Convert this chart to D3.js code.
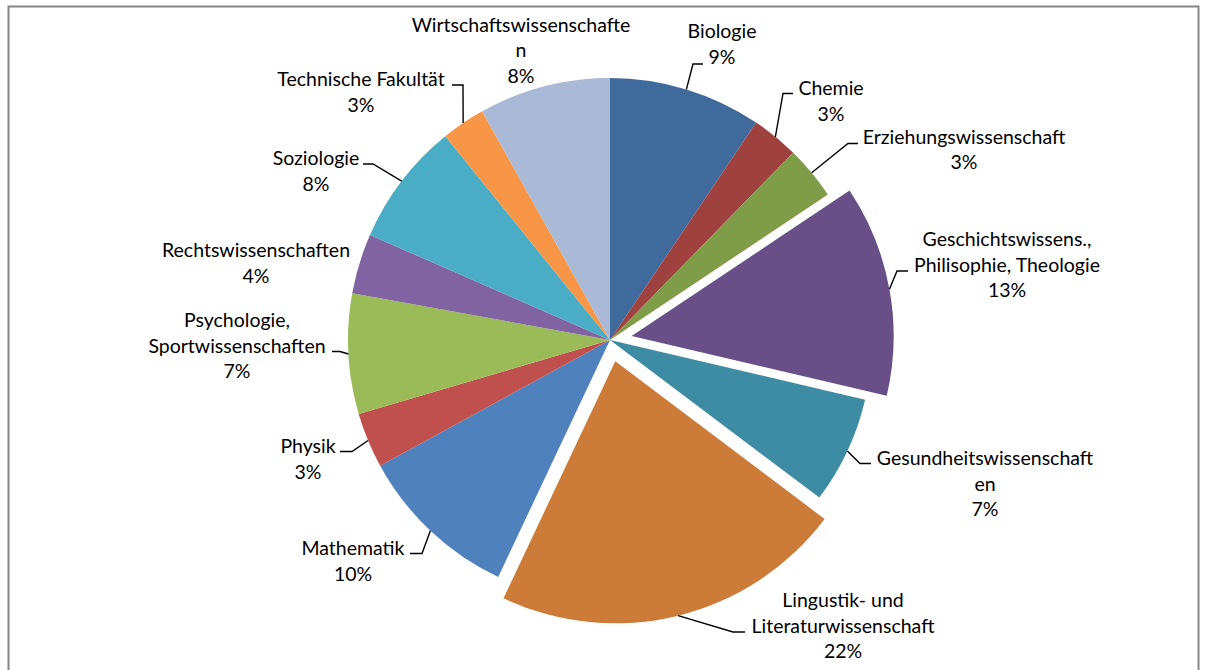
<!DOCTYPE html>
<html>
<head>
<meta charset="utf-8">
<script src="https://cdn.jsdelivr.net/npm/d3@7"></script>
<style>
  html, body { margin: 0; padding: 0; background: #fff; }
  svg { display: block; }
  .lbl { font-family: Lato, "Open Sans", sans-serif; font-size: 19.5px; fill: #000; }
</style>
</head>
<body>
<svg id="chart" width="1206" height="670"></svg>
<script>
// Faculties (slices run clockwise from 12 o'clock)
const categories = [
  "Biologie",
  "Chemie",
  "Erziehungswissenschaft",
  "Geschichtswissens., Philisophie, Theologie",
  "Gesundheitswissenschaften",
  "Lingustik- und Literaturwissenschaft",
  "Mathematik",
  "Physik",
  "Psychologie, Sportwissenschaften",
  "Rechtswissenschaften",
  "Soziologie",
  "Technische Fakultät",
  "Wirtschaftswissenschaften"
];

// Label text as wrapped onto lines
const categoryLines = [
  ["Biologie"],
  ["Chemie"],
  ["Erziehungswissenschaft"],
  ["Geschichtswissens.,", "Philisophie, Theologie"],
  ["Gesundheitswissenschaft", "en"],
  ["Lingustik- und", "Literaturwissenschaft"],
  ["Mathematik"],
  ["Physik"],
  ["Psychologie,", "Sportwissenschaften"],
  ["Rechtswissenschaften"],
  ["Soziologie"],
  ["Technische Fakultät"],
  ["Wirtschaftswissenschafte", "n"]
];

// Share of each faculty (percent)
const shares = [9.4, 2.9, 3.3, 13.0, 6.6, 21.7, 10.0, 3.4, 7.4, 3.7, 7.6, 2.7, 8.1];

// Slices pulled out of the pie
const explodedCategories = [
  "Geschichtswissens., Philisophie, Theologie",
  "Lingustik- und Literaturwissenschaft"
];

// Slice colours
const colors = [
  "#416a9c", "#9e413f", "#7f9c48", "#684f87", "#3e8ca3", "#cd7b38",
  "#4f81bd", "#c0504d", "#9bbb59", "#8064a2", "#4bacc6", "#f79646", "#aab9d6"
];

// Label placement: text centre x, first baseline, leader elbow and stub end
const labelLayout = [
  { x: 722,  y: 38,    elbow: [693, 64],    end: 703 },
  { x: 831,  y: 95,    elbow: [783, 93.5],  end: 793 },
  { x: 964,  y: 143.5, elbow: [848, 143.5], end: 858 },
  { x: 1007, y: 246,   elbow: [897, 271],   end: 908 },
  { x: 985,  y: 465,   elbow: [860, 463.5], end: 871 },
  { x: 843,  y: 607,   elbow: [733, 632],   end: 745 },
  { x: 353,  y: 555,   elbow: [422, 553.5], end: 410 },
  { x: 308,  y: 453,   elbow: [352, 451.5], end: 340 },
  { x: 237,  y: 327,   elbow: [340, 351.5], end: 332 },
  { x: 256,  y: 257,   elbow: null },
  { x: 316,  y: 165,   elbow: [373, 164],   end: 363 },
  { x: 361,  y: 86,    elbow: [463, 85],    end: 452 },
  { x: 521,  y: 31.5,  elbow: null }
];

const W = 1206, H = 670;
const cx = 610, cy = 340, R = 262, explode = 22, lineH = 25.5;

const svg = d3.select("#chart");

// outer frame
svg.append("rect")
  .attr("x", 8.5).attr("y", 6.5)
  .attr("width", 1190).attr("height", 700)
  .attr("fill", "#fff")
  .attr("stroke", "#868686")
  .attr("stroke-width", 2);

const data = categories.map((c, i) => ({
  name: c, value: shares[i], lines: categoryLines[i],
  color: colors[i], layout: labelLayout[i],
  exploded: explodedCategories.includes(c)
}));
const total = d3.sum(data, d => d.value);
const pct = d3.format(".0%");

const pie = d3.pie().sort(null).value(d => d.value);
const arc = d3.arc().innerRadius(0).outerRadius(R);
const arcs = pie(data);

const g = svg.append("g").attr("transform", `translate(${cx},${cy})`);

function offsetOf(a) {
  const mid = (a.startAngle + a.endAngle) / 2;
  const o = a.data.exploded ? explode : 0;
  return [o * Math.sin(mid), -o * Math.cos(mid)];
}

g.selectAll("path.slice")
  .data(arcs)
  .join("path")
  .attr("class", "slice")
  .attr("d", arc)
  .attr("transform", a => { const [dx, dy] = offsetOf(a); return `translate(${dx},${dy})`; })
  .attr("fill", a => a.data.color);

// leader lines: from the slice rim at its mid-angle to the label
const line = d3.line();
arcs.forEach(a => {
  const L = a.data.layout;
  if (!L.elbow) return;
  const mid = (a.startAngle + a.endAngle) / 2;
  const [dx, dy] = offsetOf(a);
  const start = [cx + dx + R * Math.sin(mid), cy + dy - R * Math.cos(mid)];
  svg.append("path")
    .attr("d", line([start, L.elbow, [L.end, L.elbow[1]]]))
    .attr("fill", "none")
    .attr("stroke", "#000")
    .attr("stroke-width", 1.4);
});

// labels: category lines followed by the percentage
arcs.forEach(a => {
  const L = a.data.layout;
  const rows = a.data.lines.concat([pct(a.data.value / total)]);
  const t = svg.append("text")
    .attr("class", "lbl")
    .attr("text-anchor", "middle");
  rows.forEach((r, k) => {
    t.append("tspan").attr("x", L.x).attr("y", L.y + k * lineH).text(r);
  });
});
</script>
</body>
</html>
